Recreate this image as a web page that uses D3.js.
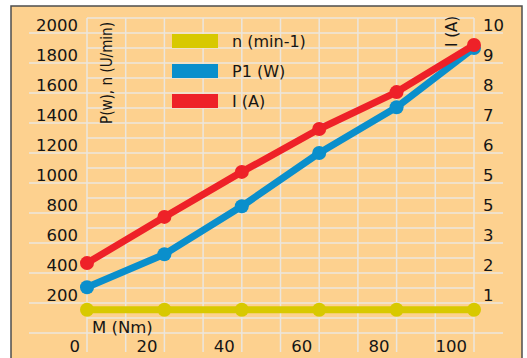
<!DOCTYPE html>
<html>
<head>
<meta charset="utf-8">
<script src="https://d3js.org/d3.v7.min.js"></script>
<style>
  body { margin: 0; background: #ffffff; }
  text { font-family: "DejaVu Sans", sans-serif; fill: #151515; }
</style>
</head>
<body>
<svg id="drawing_region"></svg>
<script>
// values
const torque = [0, 20, 40, 60, 80, 100];          // M (Nm), one per marker
const speed = [155, 155, 155, 155, 155, 155];     // n (min-1)
const power = [305, 525, 845, 1200, 1505, 1900];  // P1 (W)
const current = [2.33, 3.87, 5.37, 6.8, 8.03, 9.6]; // I (A)

const xTickLabels = ["0", "20", "40", "60", "80", "100"];
const leftTickLabels = ["2000", "1800", "1600", "1400", "1200", "1000", "800", "600", "400", "200"];
const rightTickLabels = ["10", "9", "8", "7", "6", "5", "5", "3", "2", "1"];

const legendNames = ["n (min-1)", "P1 (W)", "I (A)"];
const colors = ["#d8c900", "#0a8fcc", "#ee2128"];

class LineChart {

    constructor( config ) {
        this.config = config;
        this.init();
    }

    init() {
        let self = this;

        self.svg = d3.select( self.config.parent )
            .attr('width', self.config.width)
            .attr('height', self.config.height);

        // orange panel with dark frame
        self.svg.append('rect')
            .attr('x', 11).attr('y', 6)
            .attr('width', 511).attr('height', 360)
            .attr('fill', '#fdd18f')
            .attr('stroke', '#4d4d4d')
            .attr('stroke-width', 1.5);

        self.xscale = d3.scaleLinear()
            .domain( [0, 100] )
            .range( [87, 474] );

        self.yleft = d3.scaleLinear()
            .domain( [0, 2000] )
            .range( [333, 33] );

        self.yright = d3.scaleLinear()
            .domain( [0, 10] )
            .range( [333, 33] );

        self.grid = self.svg.append('g');
        self.labels = self.svg.append('g');
        self.lines = self.svg.append('g');
    }

    render() {
        let self = this;
        const gridColor = '#ebe6de';

        // vertical grid, every 10 Nm
        self.grid.selectAll('.vline')
            .data( d3.range(0, 101, 10) )
            .enter().append('line')
            .attr('x1', d => self.xscale(d)).attr('x2', d => self.xscale(d))
            .attr('y1', self.yleft(2100)).attr('y2', 352)
            .attr('stroke', gridColor).attr('stroke-width', 1.5);

        // horizontal grid, every 100 W; the even ones run out to the labels
        self.grid.selectAll('.hline')
            .data( d3.range(0, 2101, 100) )
            .enter().append('line')
            .attr('x1', d => d % 200 === 0 ? 29 : self.xscale(0))
            .attr('x2', d => d % 200 === 0 ? 503 : self.xscale(100))
            .attr('y1', d => self.yleft(d)).attr('y2', d => self.yleft(d))
            .attr('stroke', gridColor).attr('stroke-width', 1.5);

        // left tick labels
        self.labels.selectAll('.lt')
            .data( leftTickLabels )
            .enter().append('text')
            .attr('x', 78)
            .attr('y', d => self.yleft(+d) - 2.5)
            .attr('text-anchor', 'end')
            .style('font-size', '16.5px')
            .text(d => d);

        // right tick labels (as printed)
        self.labels.selectAll('.rt')
            .data( rightTickLabels )
            .enter().append('text')
            .attr('x', 483)
            .attr('y', (d, i) => self.yright(10 - i) - 2.5)
            .style('font-size', '16.5px')
            .text(d => d);

        // x tick labels
        self.labels.selectAll('.xt')
            .data( xTickLabels )
            .enter().append('text')
            .attr('x', d => self.xscale(+d) - 7)
            .attr('y', 352)
            .attr('text-anchor', 'end')
            .style('font-size', '16.5px')
            .text(d => d);

        self.labels.append('text')
            .attr('x', 92).attr('y', 333)
            .style('font-size', '16.5px')
            .text('M (Nm)');

        self.labels.append('text')
            .attr('transform', 'translate(112, 124) rotate(-90)')
            .attr('textLength', 102)
            .attr('lengthAdjust', 'spacingAndGlyphs')
            .style('font-size', '16px')
            .text('P(w), n (U/min)');

        self.labels.append('text')
            .attr('transform', 'translate(457, 47) rotate(-90)')
            .style('font-size', '15px')
            .text('I (A)');

        // legend
        const legend = self.labels.selectAll('.legend')
            .data( legendNames )
            .enter().append('g')
            .attr('transform', (d, i) => `translate(172, ${34 + i * 30})`);

        legend.append('rect')
            .attr('width', 46).attr('height', 14)
            .attr('fill', (d, i) => colors[i]);

        legend.append('text')
            .attr('x', 60).attr('y', 13)
            .style('font-size', '16px')
            .text(d => d);

        // series
        const series = [
            { values: speed, y: self.yleft, color: colors[0] },
            { values: power, y: self.yleft, color: colors[1] },
            { values: current, y: self.yright, color: colors[2] }
        ];

        series.forEach( s => {
            const pts = torque.map( (m, i) => [ self.xscale(m), s.y( s.values[i] ) ] );

            self.lines.append('path')
                .attr('d', d3.line()( pts ))
                .attr('fill', 'none')
                .attr('stroke', s.color)
                .attr('stroke-width', 7)
                .attr('stroke-linejoin', 'round');

            self.lines.append('g').selectAll('circle')
                .data( pts )
                .enter().append('circle')
                .attr('cx', d => d[0])
                .attr('cy', d => d[1])
                .attr('r', 7)
                .attr('fill', s.color);
        });
    }
}

const chart = new LineChart({ parent: '#drawing_region', width: 527, height: 358 });
chart.render();
</script>
</body>
</html>
